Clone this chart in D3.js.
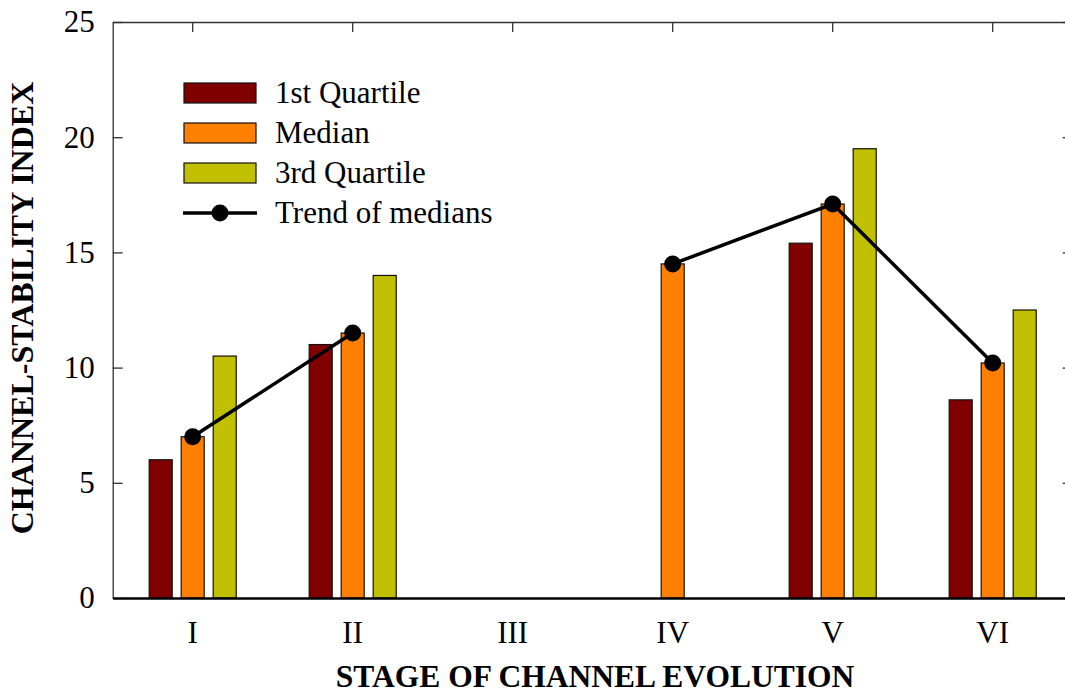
<!DOCTYPE html>
<html><head><meta charset="utf-8">
<script src="https://cdn.jsdelivr.net/npm/d3@7"></script>
<style>body{margin:0;background:#fff}svg{display:block}</style>
</head><body><svg id="c" width="1065" height="694"></svg>
<script>
const categories = ["I","II","III","IV","V","VI"];
const seriesNames = ["1st Quartile","Median","3rd Quartile"];
const q1 = [6, 11, null, null, 15.4, 8.6];
const median = [7, 11.5, null, 14.5, 17.1, 10.2];
const q3 = [10.5, 14, null, null, 19.5, 12.5];
const yTicks = [0,5,10,15,20,25];
const colors = ["#800000","#FF8000","#C0C000"];

const svg = d3.select("#c");
const font = "'Liberation Serif','Times New Roman',serif";
const L = 112.7, R = 1072.7, T = 22, B = 598;
const x = d3.scaleBand().domain(categories).range([L, R]).padding(0);
const xs = d3.scaleBand().domain(seriesNames).range([-48, 48]).paddingInner(0.28125).paddingOuter(0.140625);
const y = d3.scaleLinear().domain([0, 25]).range([B, T]);
const cx = c => x(c) + x.bandwidth()/2;

// bars
const series = [q1, median, q3];
series.forEach((vals, si) => {
  svg.append("g").selectAll("rect")
    .data(categories.map((c,i)=>({c, v: vals[i]})).filter(d=>d.v!=null))
    .join("rect")
    .attr("x", d => cx(d.c) + xs(seriesNames[si]))
    .attr("width", xs.bandwidth())
    .attr("y", d => y(d.v))
    .attr("height", d => y(0) - y(d.v))
    .attr("fill", colors[si])
    .attr("stroke", "#111").attr("stroke-width", 1.2);
});

// axes
const styleAxis = (g, w, col) => { g.select(".domain").attr("stroke", col).attr("stroke-width", w); g.selectAll(".tick line").attr("stroke", "#333").attr("stroke-width", 1.3); g.selectAll("text").attr("font-family", font).attr("font-size", 31).attr("fill", "#000"); };
svg.append("g").attr("transform", `translate(${L},0)`)
  .call(d3.axisLeft(y).tickValues(yTicks).tickSize(-10).tickSizeOuter(0).tickPadding(18))
  .call(g => styleAxis(g, 1.3, "#333"));
svg.append("g").attr("transform", `translate(${R},0)`)
  .call(d3.axisRight(y).tickValues(yTicks).tickSize(-10).tickSizeOuter(0).tickFormat(""))
  .call(g => styleAxis(g, 1.3, "#333"));
svg.append("g").attr("transform", `translate(0,${T})`)
  .call(d3.axisTop(x).tickSize(-10).tickSizeOuter(0).tickFormat(""))
  .call(g => styleAxis(g, 1.3, "#333"));
svg.append("g").attr("transform", `translate(0,${B})`)
  .call(d3.axisBottom(x).tickSize(0).tickSizeOuter(0).tickPadding(23))
  .call(g => styleAxis(g, 2.5, "#000"));

// trend line (breaks where a stage has no median)
const allPts = categories.map((c,i)=>({c, v: median[i]}));
svg.append("path").datum(allPts)
  .attr("d", d3.line().defined(d=>d.v!=null).x(d=>cx(d.c)).y(d=>y(d.v)))
  .attr("fill","none").attr("stroke","#000").attr("stroke-width",3.5);
svg.append("g").selectAll("circle").data(allPts.filter(d=>d.v!=null)).join("circle")
  .attr("cx", d=>cx(d.c)).attr("cy", d=>y(d.v)).attr("r", 8.5).attr("fill","#000");

// legend
const leg = svg.append("g");
seriesNames.forEach((n,i)=>{
  leg.append("rect").attr("x",184).attr("y",83+40*i).attr("width",72).attr("height",20)
    .attr("fill",colors[i]).attr("stroke","#111").attr("stroke-width",1.2);
  leg.append("text").attr("x",275).attr("y",103+40*i).text(n)
    .attr("font-family",font).attr("font-size",31);
});
leg.append("line").attr("x1",183).attr("x2",257).attr("y1",213).attr("y2",213).attr("stroke","#000").attr("stroke-width",3.5);
leg.append("circle").attr("cx",220).attr("cy",213).attr("r",8.5).attr("fill","#000");
leg.append("text").attr("x",275).attr("y",223).text("Trend of medians").attr("font-family",font).attr("font-size",31);

// titles
svg.append("text").attr("x",595).attr("y",687).attr("text-anchor","middle")
  .attr("font-family",font).attr("font-size",31.5).attr("font-weight","bold").text("STAGE OF CHANNEL EVOLUTION");
svg.append("text").attr("transform","translate(33,308) rotate(-90)").attr("text-anchor","middle")
  .attr("font-family",font).attr("font-size",32).attr("font-weight","bold").text("CHANNEL-STABILITY INDEX");
</script></body></html>
